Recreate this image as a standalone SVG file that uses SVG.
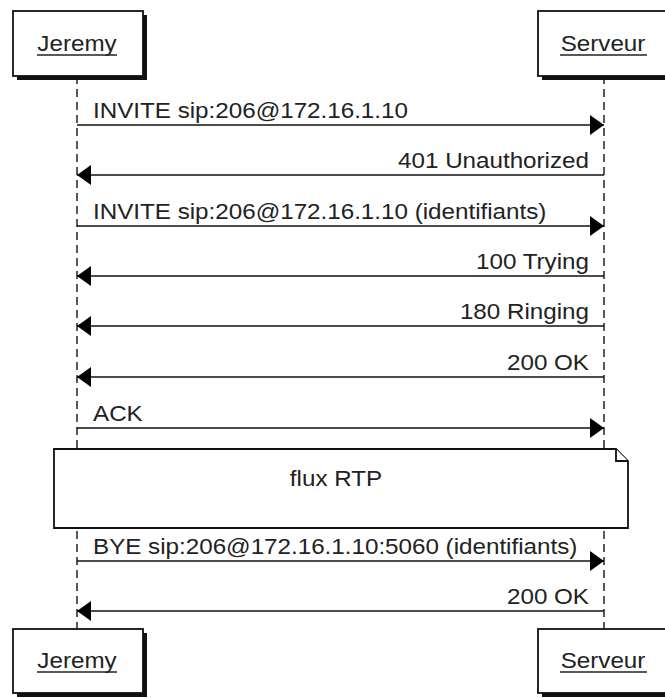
<svg xmlns="http://www.w3.org/2000/svg" width="665" height="698" viewBox="0 0 665 698">
<style>
text{font-family:"Liberation Sans",Arial,sans-serif;font-size:22px;fill:#222}
.box{fill:#fff;stroke:#111;stroke-width:1.8}
.sh{fill:#111}
.life{stroke:#222;stroke-width:1.5;stroke-dasharray:8,5;fill:none}
.msg{stroke:#111;stroke-width:1.6;fill:none}
.ul{stroke:#222;stroke-width:1.5}
.ar{fill:#000}
.r{text-anchor:end}
.c{text-anchor:middle}
</style>
<defs>
<marker id="ah" viewBox="0 0 14 20" refX="14" refY="10" markerWidth="14" markerHeight="20" markerUnits="userSpaceOnUse" orient="auto">
<path d="M0,0 L14,10 L0,20 Z" class="ar"/>
</marker>
</defs>
<g id="lifelines">
<line class="life" x1="77" y1="76" x2="77" y2="629"/>
<line class="life" x1="604" y1="76" x2="604" y2="629"/>
</g>
<g id="jeremy-top">
<rect class="sh" x="17" y="15" width="130" height="65"/>
<rect class="box" x="13" y="11" width="130" height="65"/>
<text class="c" transform="translate(77,51) scale(1.1,1)">Jeremy</text>
<line class="ul" x1="37" y1="55" x2="117" y2="55"/>
</g>
<g id="serveur-top">
<rect class="sh" x="542" y="15" width="135" height="65"/>
<rect class="box" x="538" y="11" width="135" height="65"/>
<text class="c" transform="translate(603,51) scale(1.1,1)">Serveur</text>
<line class="ul" x1="560" y1="55" x2="647" y2="55"/>
</g>
<g id="connectors">
<line class="msg" x1="77" y1="125" x2="604" y2="125" marker-end="url(#ah)"/>
<text transform="translate(93,118) scale(1.1,1)">INVITE sip:206@172.16.1.10</text>
<line class="msg" x1="604" y1="175" x2="77" y2="175" marker-end="url(#ah)"/>
<text class="r" transform="translate(589,168) scale(1.1,1)">401 Unauthorized</text>
<line class="msg" x1="77" y1="226" x2="604" y2="226" marker-end="url(#ah)"/>
<text transform="translate(93,219) scale(1.1,1)">INVITE sip:206@172.16.1.10 (identifiants)</text>
<line class="msg" x1="604" y1="276" x2="77" y2="276" marker-end="url(#ah)"/>
<text class="r" transform="translate(589,269) scale(1.1,1)">100 Trying</text>
<line class="msg" x1="604" y1="326" x2="77" y2="326" marker-end="url(#ah)"/>
<text class="r" transform="translate(589,319) scale(1.1,1)">180 Ringing</text>
<line class="msg" x1="604" y1="377" x2="77" y2="377" marker-end="url(#ah)"/>
<text class="r" transform="translate(589,370) scale(1.1,1)">200 OK</text>
<line class="msg" x1="77" y1="428" x2="604" y2="428" marker-end="url(#ah)"/>
<text transform="translate(93,421) scale(1.1,1)">ACK</text>
<line class="msg" x1="77" y1="561" x2="604" y2="561" marker-end="url(#ah)"/>
<text transform="translate(93,554) scale(1.1,1)">BYE sip:206@172.16.1.10:5060 (identifiants)</text>
<line class="msg" x1="604" y1="611" x2="77" y2="611" marker-end="url(#ah)"/>
<text class="r" transform="translate(589,604) scale(1.1,1)">200 OK</text>
</g>
<g id="note">
<path class="box" d="M54,449 L616,449 L628,461 L628,528 L54,528 Z"/>
<path class="box" d="M616,449 L616,461 L628,461"/>
<text class="c" transform="translate(336,486) scale(1.1,1)">flux RTP</text>
</g>
<g id="jeremy-bottom">
<rect class="sh" x="17" y="633" width="130" height="64"/>
<rect class="box" x="13" y="629" width="130" height="64"/>
<text class="c" transform="translate(77,668) scale(1.1,1)">Jeremy</text>
<line class="ul" x1="37" y1="672" x2="117" y2="672"/>
</g>
<g id="serveur-bottom">
<rect class="sh" x="542" y="633" width="135" height="64"/>
<rect class="box" x="538" y="629" width="135" height="64"/>
<text class="c" transform="translate(603,668) scale(1.1,1)">Serveur</text>
<line class="ul" x1="560" y1="672" x2="647" y2="672"/>
</g>
</svg>
